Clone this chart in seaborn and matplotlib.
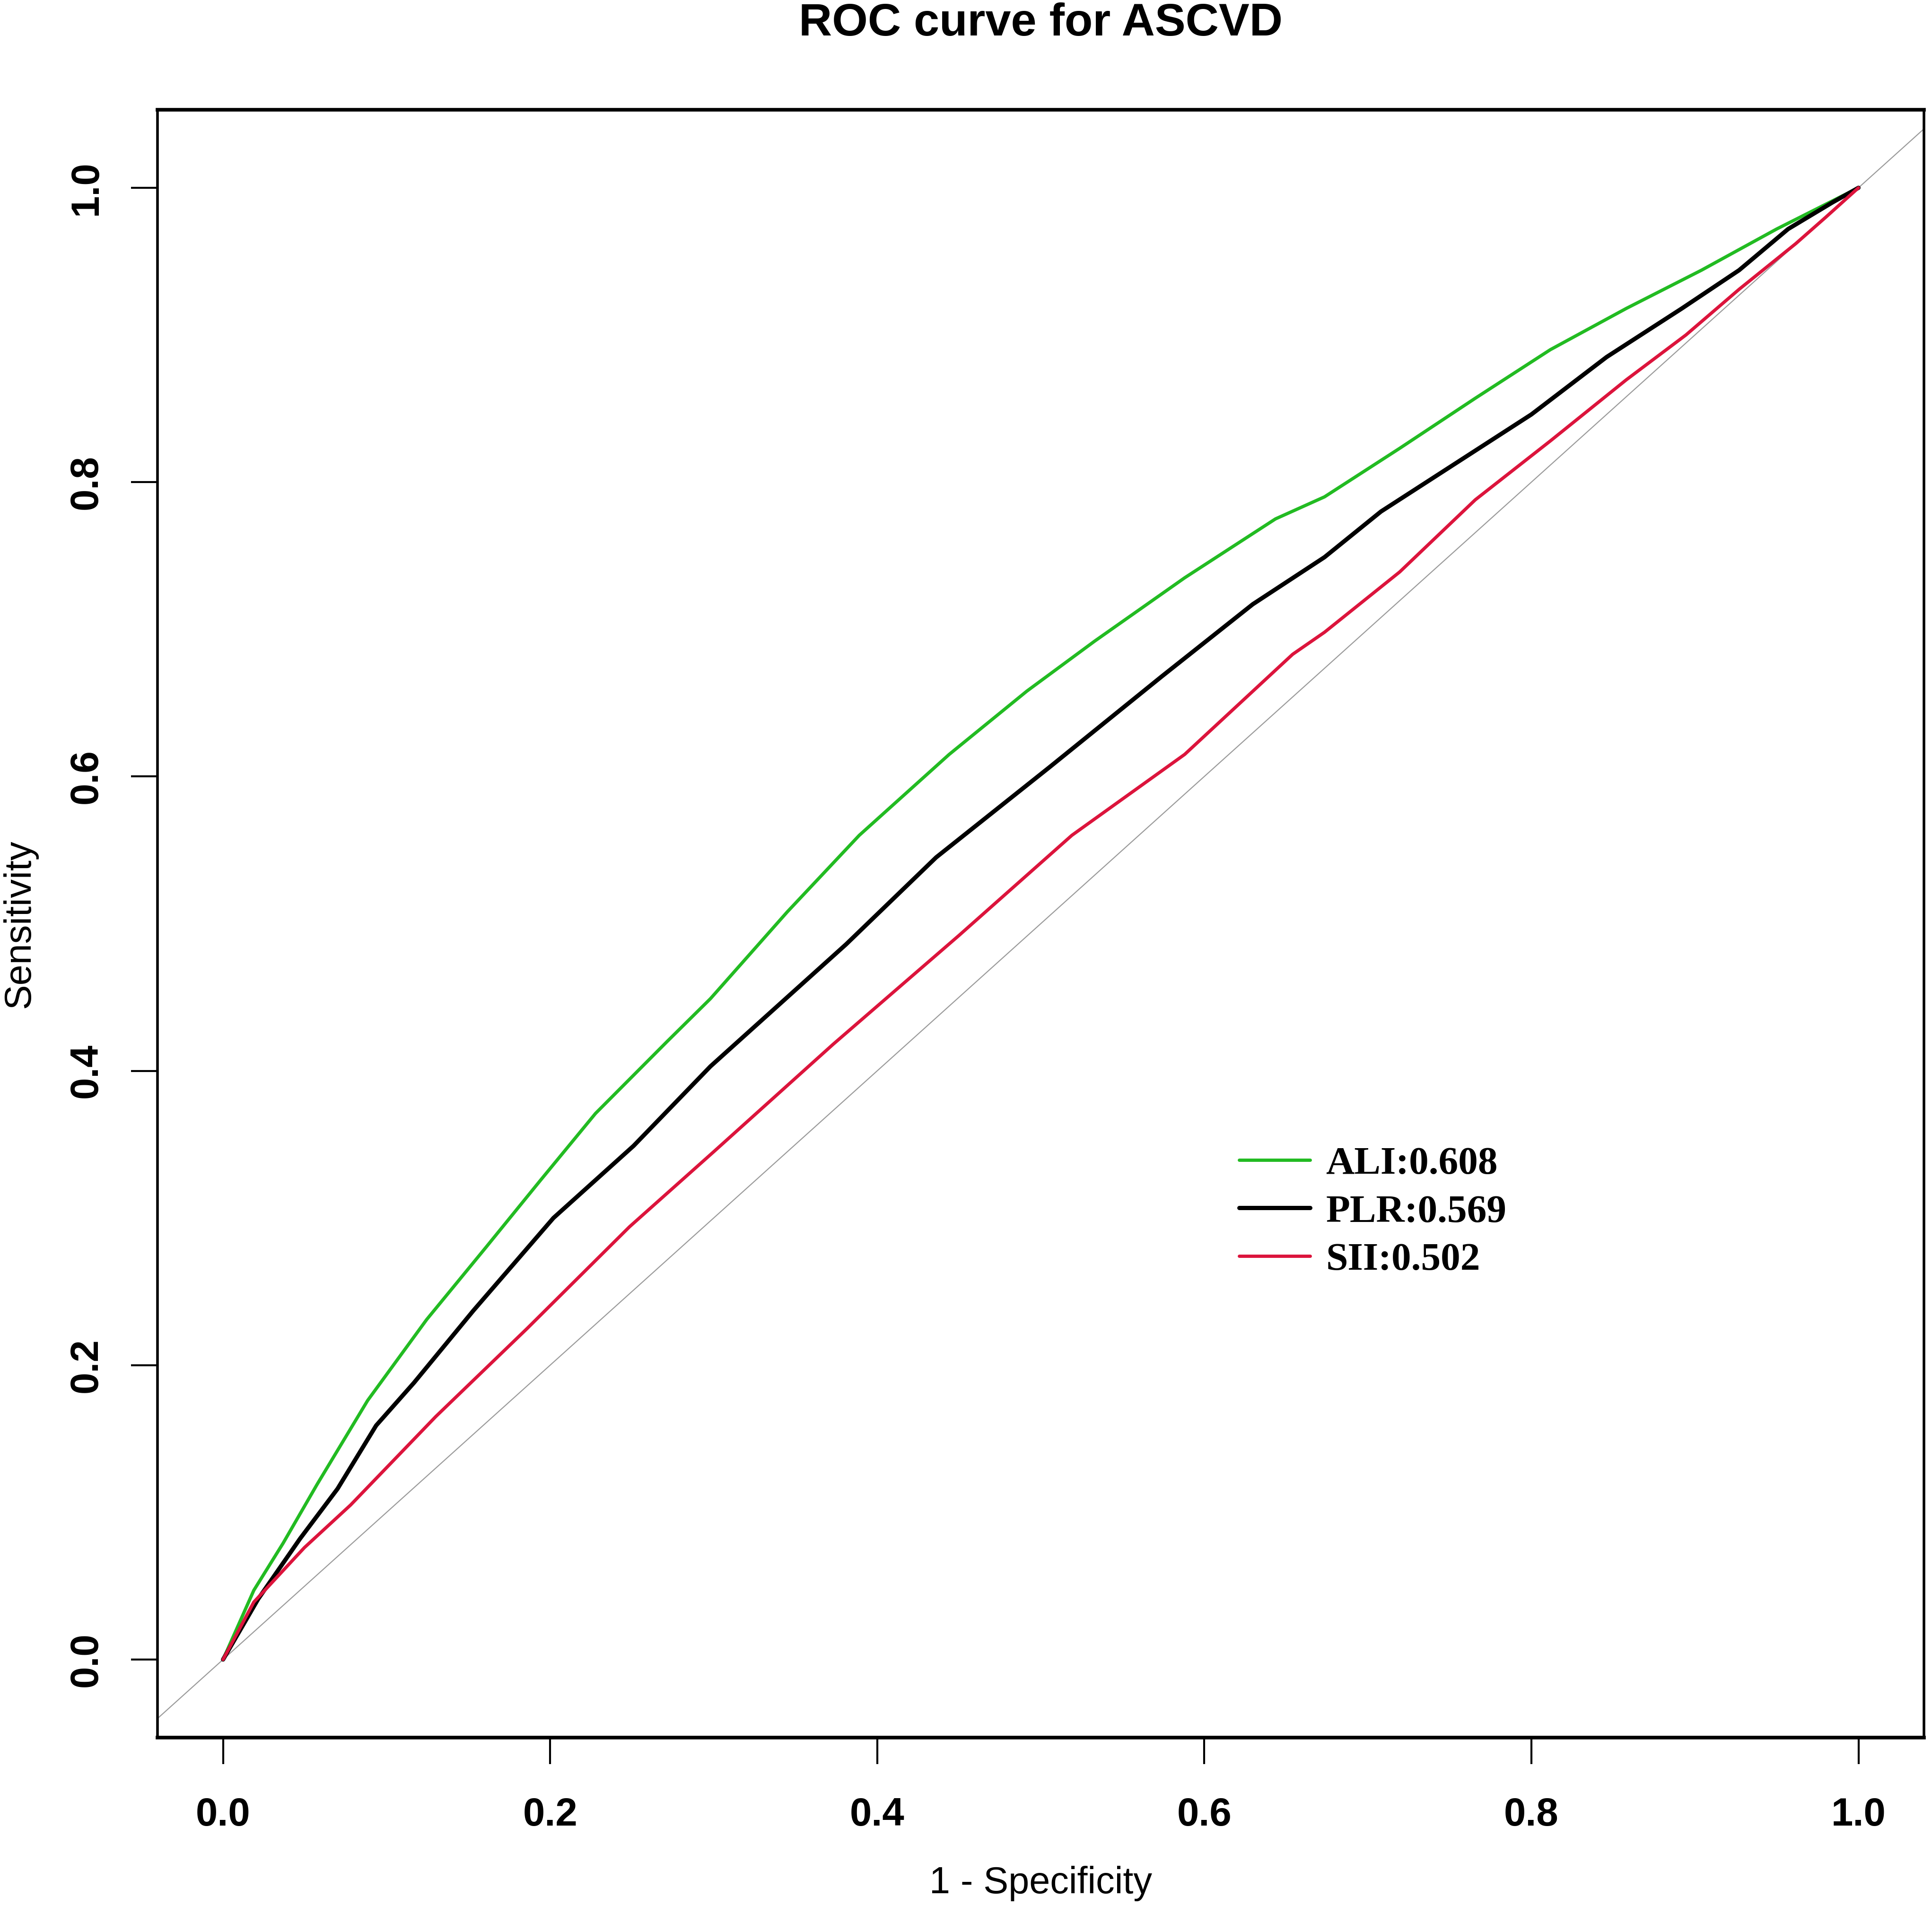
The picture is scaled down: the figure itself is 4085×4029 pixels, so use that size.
import numpy as np
import pandas as pd
import seaborn as sns
import matplotlib
matplotlib.use("Agg")
import matplotlib.pyplot as plt

# ROC points (1 - specificity, sensitivity)
ali_fpr = [0, 0.0188, 0.0367, 0.0575, 0.0884, 0.1245, 0.1607, 0.194, 0.2277, 0.2716, 0.298, 0.345,
           0.389, 0.444, 0.4915, 0.533, 0.588, 0.6435, 0.6735, 0.7195, 0.7657, 0.8116, 0.858, 0.904, 0.95, 1.0]
ali_tpr = [0, 0.047, 0.079, 0.119, 0.176, 0.231, 0.280, 0.3255, 0.371, 0.420, 0.449, 0.508,
           0.560, 0.615, 0.658, 0.692, 0.735, 0.775, 0.790, 0.823, 0.857, 0.890, 0.918, 0.944, 0.972, 1.0]

plr_fpr = [0, 0.0214, 0.047, 0.070, 0.0936, 0.1167, 0.153, 0.202, 0.251, 0.298, 0.381, 0.436, 0.505,
           0.574, 0.6296, 0.6735, 0.708, 0.754, 0.800, 0.846, 0.892, 0.927, 0.957, 0.984, 1.0]
plr_tpr = [0, 0.041, 0.082, 0.116, 0.159, 0.188, 0.237, 0.300, 0.349, 0.403, 0.486, 0.545, 0.606,
           0.668, 0.717, 0.749, 0.780, 0.813, 0.846, 0.885, 0.918, 0.944, 0.972, 0.990, 1.0]

sii_fpr = [0, 0.0188, 0.0497, 0.078, 0.130, 0.186, 0.2485, 0.300, 0.373, 0.450, 0.519, 0.588, 0.654,
           0.6735, 0.7195, 0.7657, 0.8116, 0.858, 0.8945, 0.927, 0.9616, 0.980, 1.0]
sii_tpr = [0, 0.039, 0.076, 0.105, 0.165, 0.225, 0.294, 0.345, 0.418, 0.492, 0.560, 0.615, 0.683,
           0.698, 0.739, 0.788, 0.828, 0.8695, 0.900, 0.931, 0.962, 0.980, 1.0]

markers = ["ALI", "PLR", "SII"]
aucs = [0.608, 0.569, 0.502]
colors = ["#22BB22", "#000000", "#DC143C"]
widths = [5.0, 6.5, 5.0]
ticks = [0.0, 0.2, 0.4, 0.6, 0.8, 1.0]

sns.set_style("ticks")
plt.rcParams["font.family"] = ["Liberation Sans", "DejaVu Sans"]
plt.rcParams["text.color"] = "black"

fig = plt.figure(figsize=(40.85, 40.29), dpi=100)
ax = fig.add_axes([0.0816, 0.0884, 0.9142, 0.854])

# chance line
ax.axline((0, 0), slope=1, color="#9a9a9a", linewidth=1.6, zorder=1)

curves = [(ali_fpr, ali_tpr), (plr_fpr, plr_tpr), (sii_fpr, sii_tpr)]
handles = []
for name, auc, (fpr, tpr), c, lw in zip(markers, aucs, curves, colors, widths):
    df = pd.DataFrame({"fpr": fpr, "tpr": tpr})
    sns.lineplot(data=df, x="fpr", y="tpr", sort=False, estimator=None,
                 color=c, linewidth=lw, ax=ax, legend=False, zorder=3)
    line = ax.lines[-1]
    line.set_label(f"{name}:{auc:.3f}")
    handles.append(line)

ax.set_xlim(-0.04, 1.04)
ax.set_ylim(-0.053, 1.053)
ax.set_xticks(ticks)
ax.set_yticks(ticks)
ax.set_xticklabels([f"{t:.1f}" for t in ticks], fontweight="bold")
ax.set_yticklabels([f"{t:.1f}" for t in ticks], fontweight="bold")

for s in ax.spines.values():
    s.set_color("black")
    s.set_linewidth(4)
ax.spines["top"].set_linewidth(5.5)
ax.spines["bottom"].set_linewidth(5.5)

ax.tick_params(axis="both", direction="out", length=40, width=3, color="black",
               labelsize=60, labelcolor="black")
ax.tick_params(axis="x", pad=50)
ax.tick_params(axis="y", pad=40)
for lab in ax.get_yticklabels():
    lab.set_rotation(90)
    lab.set_va("center")

ax.set_xlabel("1 - Specificity", fontsize=57, color="black")
ax.set_ylabel("Sensitivity", fontsize=57, color="black")
ax.xaxis.set_label_coords(0.5, -0.0898)
ax.xaxis.label.set_va("center")
ax.yaxis.set_label_coords(-0.078, 0.5)
ax.yaxis.label.set_va("center")

ax.set_title("ROC curve for ASCVD", fontsize=70, fontweight="bold", color="black",
             y=1.0457, pad=0)

leg = ax.legend(handles=handles, loc="center left", bbox_to_anchor=(0.6414, 0.3640),
                bbox_transform=fig.transFigure, frameon=False, borderpad=0, borderaxespad=0,
                handlelength=1.8, handletextpad=0.4, labelspacing=0.3,
                prop={"family": "Liberation Serif", "weight": "bold", "size": 60})
for t in leg.get_texts():
    t.set_color("black")

fig.savefig("out.png", dpi=100)
